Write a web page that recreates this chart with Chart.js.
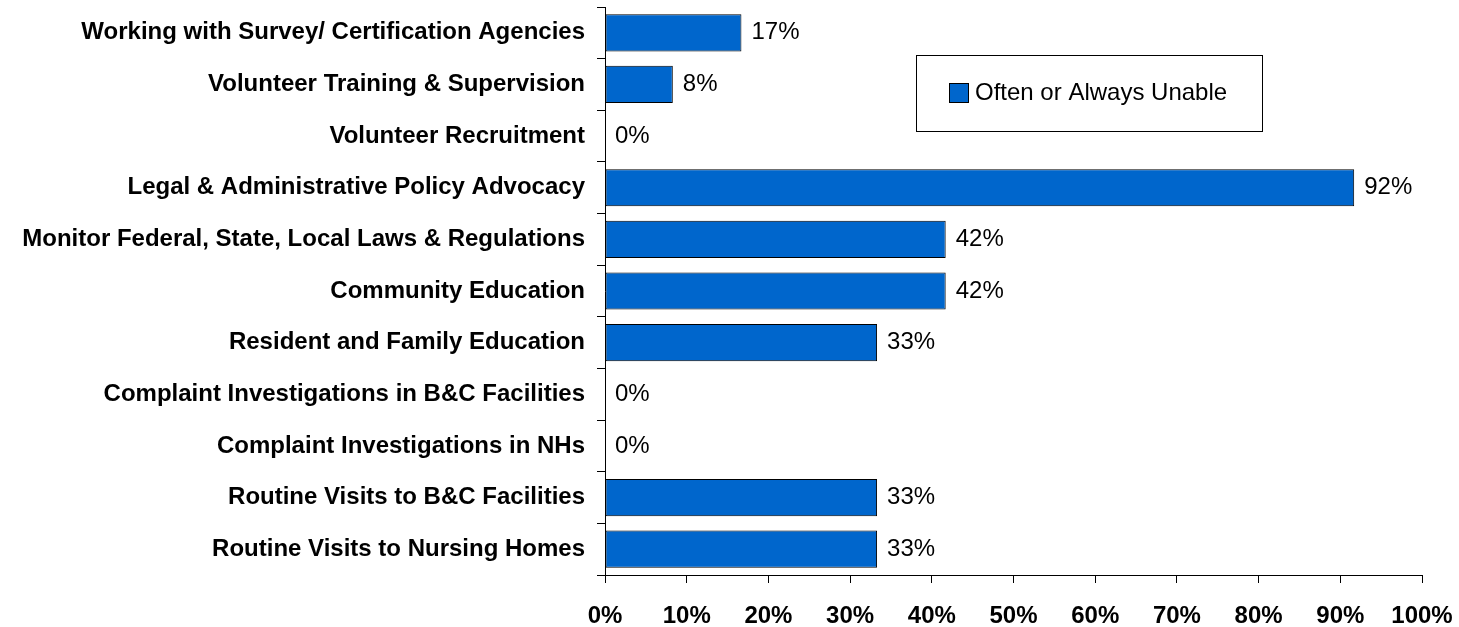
<!DOCTYPE html>
<html>
<head>
<meta charset="utf-8">
<script src="https://cdn.jsdelivr.net/npm/chart.js@4"></script>
<style>
  html, body { margin: 0; padding: 0; background: #fff; }
  #wrap { width: 1459px; height: 627px; position: relative; }
</style>
</head>
<body>
<div id="wrap"><canvas id="chart"></canvas></div>
<script>
const categories = [
    'Working with Survey/ Certification Agencies',
    'Volunteer Training & Supervision',
    'Volunteer Recruitment',
    'Legal & Administrative Policy Advocacy',
    'Monitor Federal, State, Local Laws & Regulations',
    'Community Education',
    'Resident and Family Education',
    'Complaint Investigations in B&C Facilities',
    'Complaint Investigations in NHs',
    'Routine Visits to B&C Facilities',
    'Routine Visits to Nursing Homes'
];
const unableValues = [16.7, 8.3, 0, 91.7, 41.7, 41.7, 33.3, 0, 0, 33.3, 33.3];
const seriesName = 'Often or Always Unable';
const xTicks = [0, 10, 20, 30, 40, 50, 60, 70, 80, 90, 100];

const FONT = '"Liberation Sans", Arial, sans-serif';
const BAR_BLUE = '#0066CC';

// value labels at the end of each bar
const barLabels = {
    id: 'barLabels',
    afterDatasetsDraw(chart) {
        const ctx = chart.ctx;
        const meta = chart.getDatasetMeta(0);
        ctx.save();
        ctx.font = '24px ' + FONT;
        ctx.fillStyle = '#000';
        ctx.textAlign = 'left';
        ctx.textBaseline = 'middle';
        meta.data.forEach((bar, i) => {
            ctx.fillText(Math.round(unableValues[i]) + '%', bar.x + 10, bar.y);
        });
        ctx.restore();
    }
};

// boxed legend inside the plot
const boxLegend = {
    id: 'boxLegend',
    afterDraw(chart) {
        const ctx = chart.ctx;
        ctx.save();
        ctx.strokeStyle = '#000';
        ctx.lineWidth = 1;
        ctx.fillStyle = '#fff';
        ctx.fillRect(916.5, 55.5, 346, 76);
        ctx.strokeRect(916.5, 55.5, 346, 76);
        ctx.fillStyle = BAR_BLUE;
        ctx.fillRect(949.5, 83.5, 19, 19);
        ctx.strokeRect(949.5, 83.5, 19, 19);
        ctx.fillStyle = '#000';
        ctx.font = '24px ' + FONT;
        ctx.textBaseline = 'middle';
        ctx.fillText(seriesName, 975, 93);
        ctx.restore();
    }
};

const config = {
    type: 'bar',
    data: {
        labels: categories,
        datasets: [{
            label: seriesName,
            data: unableValues,
            backgroundColor: BAR_BLUE,
            borderColor: '#000',
            borderWidth: 1,
            borderSkipped: false,
            barPercentage: 0.72,
            categoryPercentage: 1
        }]
    },
    options: {
        indexAxis: 'y',
        responsive: true,
        maintainAspectRatio: false,
        animation: false,
        layout: { padding: { top: 7, right: 37, bottom: 0, left: 0 } },
        scales: {
            x: {
                min: 0,
                max: 100,
                afterBuildTicks: scale => { scale.ticks = xTicks.map(v => ({ value: v })); },
                afterFit: scale => {
                    scale.height = 52;
                    scale.paddingLeft = 0;
                    scale.paddingRight = 0;
                },
                border: { display: true, color: '#000', width: 1 },
                grid: { drawOnChartArea: false, drawTicks: true, tickLength: 8, color: '#000' },
                ticks: {
                    padding: 19,
                    color: '#000',
                    font: { family: FONT, size: 24, weight: 'bold' },
                    callback: v => v + '%',
                    maxRotation: 0
                }
            },
            y: {
                afterFit: scale => {
                    scale.width = 605;
                    scale.paddingTop = 0;
                    scale.paddingBottom = 0;
                },
                border: { display: true, color: '#000', width: 1 },
                grid: { drawOnChartArea: false, drawTicks: true, tickLength: 8, color: '#000', offset: true },
                ticks: {
                    padding: 12,
                    color: '#000',
                    font: { family: FONT, size: 24, weight: 'bold' }
                }
            }
        },
        plugins: {
            legend: { display: false },
            tooltip: { enabled: false },
            title: { display: false }
        }
    },
    plugins: [barLabels, boxLegend]
};

new Chart(document.getElementById('chart'), config);
</script>
</body>
</html>
